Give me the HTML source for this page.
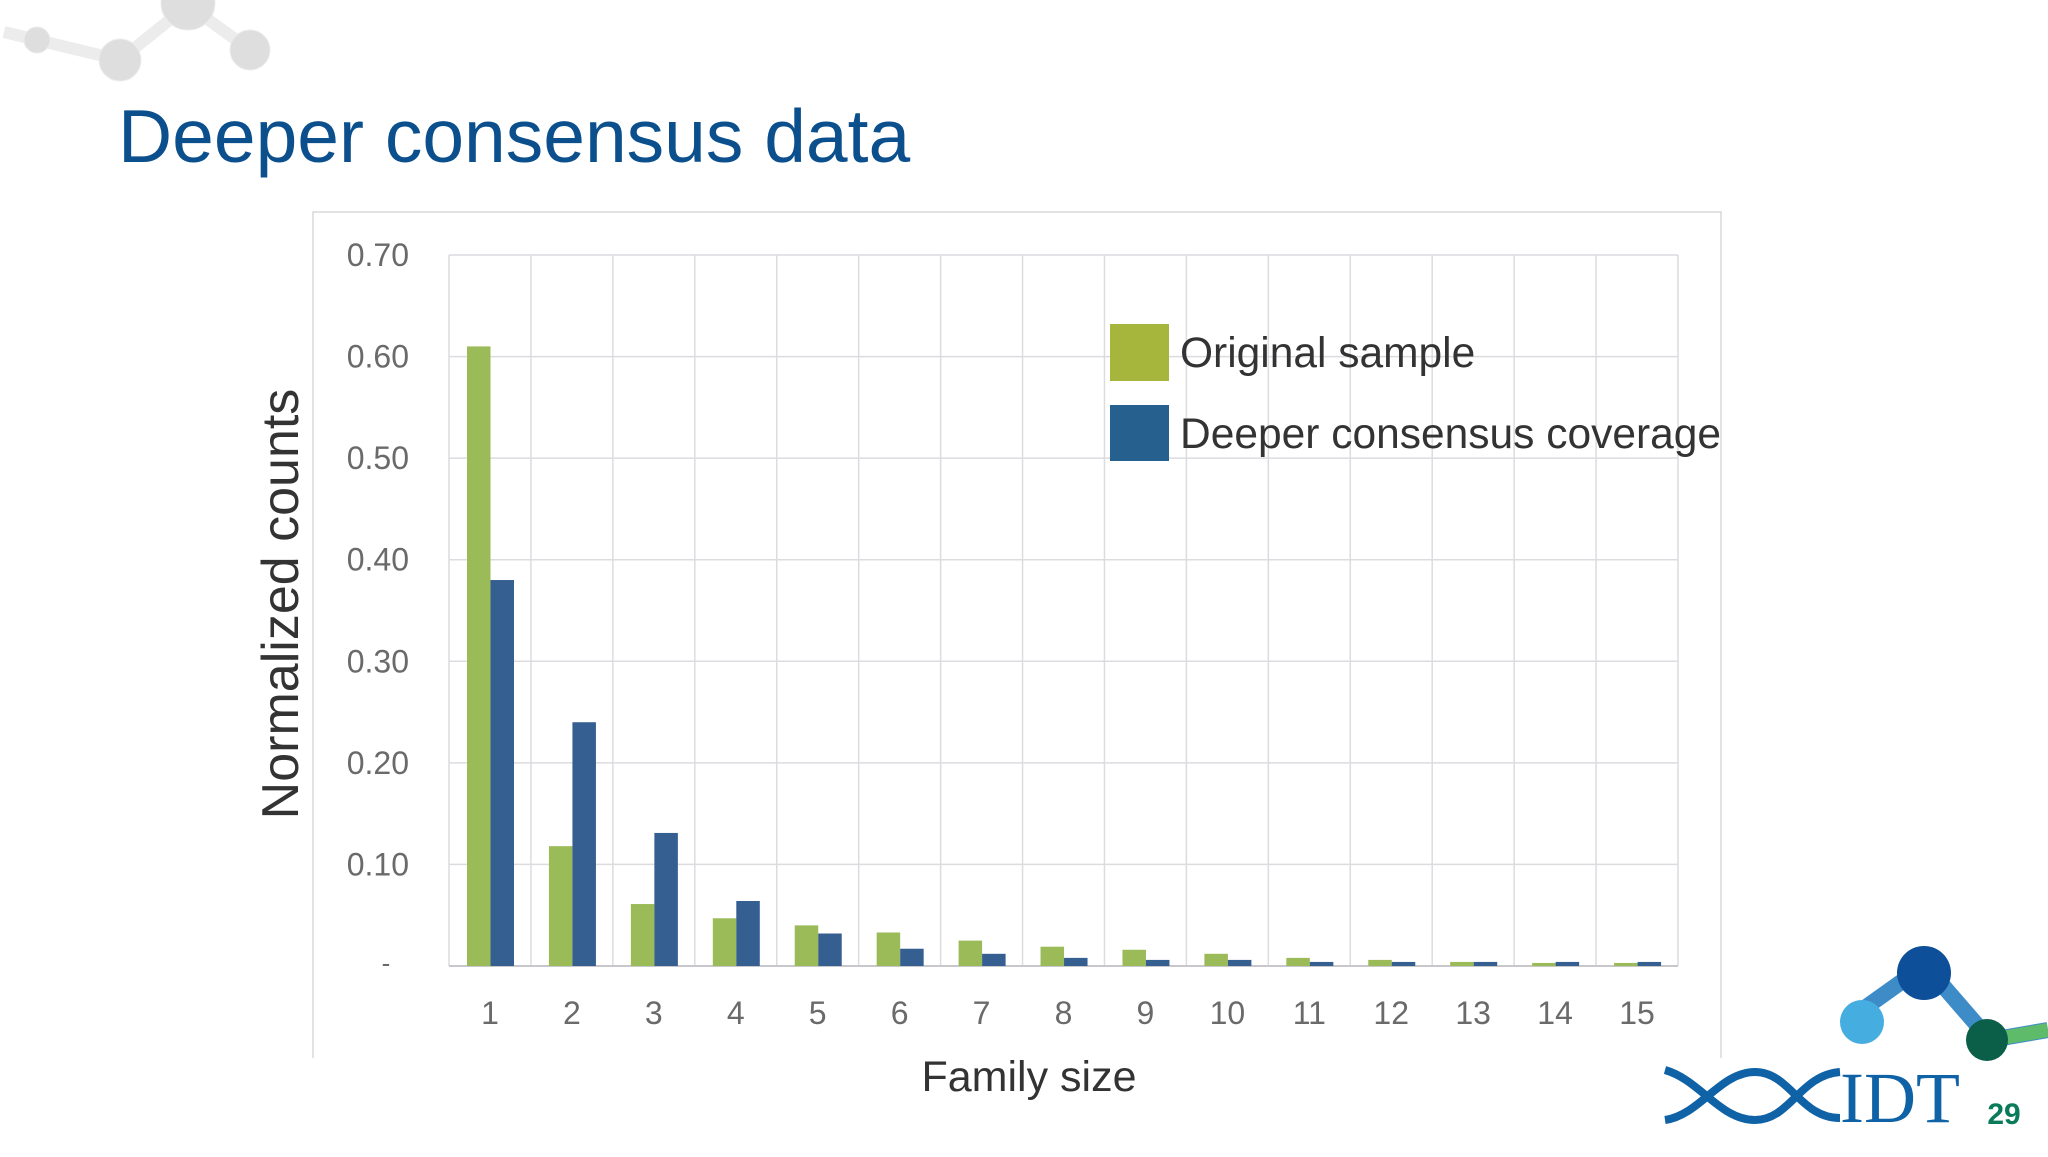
<!DOCTYPE html>
<html><head><meta charset="utf-8"><style>
html,body{margin:0;padding:0;background:#fff;}
body{width:2048px;height:1152px;overflow:hidden;position:relative;font-family:"Liberation Sans",sans-serif;}
</style></head><body>
<svg width="2048" height="1152" viewBox="0 0 2048 1152" xmlns="http://www.w3.org/2000/svg">
  <g fill="#dedede" stroke="#ececec">
    <path d="M4,32 L37,40 L120,60 L188,5 L250,50" fill="none" stroke-width="12"/>
    <circle cx="37" cy="40" r="13"/>
    <circle cx="120" cy="60" r="21"/>
    <circle cx="188" cy="3" r="27"/>
    <circle cx="250" cy="50" r="20"/>
  </g>
  <text x="118" y="162" font-size="75" fill="#0b4f8d">Deeper consensus data</text>
  <path d="M313,1058 L313,212 L1721,212 L1721,1058" fill="#fff" stroke="#d8d8d8" stroke-width="1.5"/>
  <g id="grid"></g>
  <g id="bars"></g>
  <g id="ticks"></g>
  <text transform="translate(298,604) rotate(-90)" text-anchor="middle" font-size="52" fill="#333">Normalized counts</text>
  <text x="1029" y="1091" text-anchor="middle" font-size="43" fill="#333">Family size</text>
  <g>
    <rect x="1110" y="324" width="59" height="57" fill="#a6b53c"/>
    <text x="1180" y="367" font-size="42.5" fill="#333">Original sample</text>
    <rect x="1110" y="405" width="59" height="56" fill="#25608f"/>
    <text x="1180" y="448" font-size="42.5" fill="#333">Deeper consensus coverage</text>
  </g>
  <g>
    <path d="M1862,1010 L1925,965 L1990,1040 L2048,1030" fill="none" stroke="#3d8cc8" stroke-width="16"/>
    <path d="M1990,1040 L2048,1030" fill="none" stroke="#5dbb6a" stroke-width="14"/>
    <circle cx="1862" cy="1022" r="22" fill="#46ade0"/>
    <ellipse cx="1924" cy="973" rx="27" ry="27" fill="#0d4f99"/>
    <circle cx="1987" cy="1040" r="21" fill="#0b5e48"/>
    <path d="M1665,1070 C1700,1080 1720,1120 1755,1120 C1790,1120 1800,1075 1840,1072" fill="none" stroke="#0f62a6" stroke-width="8"/>
    <path d="M1665,1120 C1700,1115 1720,1072 1755,1072 C1790,1072 1800,1118 1840,1118" fill="none" stroke="#0f62a6" stroke-width="8"/>
    <text x="1840" y="1122" font-family="Liberation Serif, serif" font-size="72" fill="#0f62a6">IDT</text>
  </g>
  <text x="2004" y="1124" text-anchor="middle" font-size="30" font-weight="bold" fill="#0b7a5a">29</text>
</svg>
<script>
const categories = ["1","2","3","4","5","6","7","8","9","10","11","12","13","14","15"];
const originalSample = [0.61,0.118,0.061,0.047,0.040,0.033,0.025,0.019,0.016,0.012,0.008,0.006,0.004,0.003,0.003];
const deeperCoverage = [0.38,0.24,0.131,0.064,0.032,0.017,0.012,0.008,0.006,0.006,0.004,0.004,0.004,0.004,0.004];
const yTicks = [0.1,0.2,0.3,0.4,0.5,0.6,0.7];
const yTickLabels = ["0.10","0.20","0.30","0.40","0.50","0.60","0.70"];

const NS = "http://www.w3.org/2000/svg";
const X0 = 449, X1 = 1678, Y0 = 966, YTOP = 255, YMAX = 0.7;
const bw = (X1 - X0) / categories.length;
function y(v){ return Y0 - v / YMAX * (Y0 - YTOP); }
function xCat(i){ return X0 + i * bw; }
function mk(tag, attrs, parent){ const e = document.createElementNS(NS, tag); for (const k in attrs) e.setAttribute(k, attrs[k]); parent.appendChild(e); return e; }

const grid = document.getElementById('grid');
const bars = document.getElementById('bars');
const ticks = document.getElementById('ticks');

for (let i = 0; i <= categories.length; i++) {
  const l = mk('line', {x1: xCat(i), x2: xCat(i), y1: YTOP, y2: Y0, stroke: '#dcdce0', 'stroke-width': 1.5}, grid);
  
  
}
yTicks.forEach((t, i) => {
  const l = mk('line', {x1: X0, x2: X1, y1: y(t), y2: y(t), stroke: '#dcdce0', 'stroke-width': 1.5}, grid);
  
  
  const tx = mk('text', {x: 409, y: y(t) + 11, 'text-anchor': 'end', 'font-size': 32, fill: '#6a6a6a'}, ticks);
  tx.textContent = yTickLabels[i];
  
  
});
const zl = mk('text', {x: 386, y: Y0 + 6, 'text-anchor': 'middle', 'font-size': 26, fill: '#6a6a6a'}, ticks);
zl.textContent = "-";



const barW = 23.5, off = 18;
categories.forEach((c, i) => {
  const g = mk('rect', {x: xCat(i) + off, y: y(originalSample[i]), width: barW, height: Y0 - y(originalSample[i]), fill: '#9bbb59'}, bars);
  
  
  const b = mk('rect', {x: xCat(i) + off + barW, y: y(deeperCoverage[i]), width: barW, height: Y0 - y(deeperCoverage[i]), fill: '#365f91'}, bars);
  
  
  const t = mk('text', {x: xCat(i) + bw / 2, y: 1024, 'text-anchor': 'middle', 'font-size': 32, fill: '#6a6a6a'}, ticks);
  t.textContent = c;
  
  
});
const ax = mk('line', {x1: X0, x2: X1, y1: Y0, y2: Y0, stroke: '#c8c8cc', 'stroke-width': 2}, grid);


</script>
</body></html>
